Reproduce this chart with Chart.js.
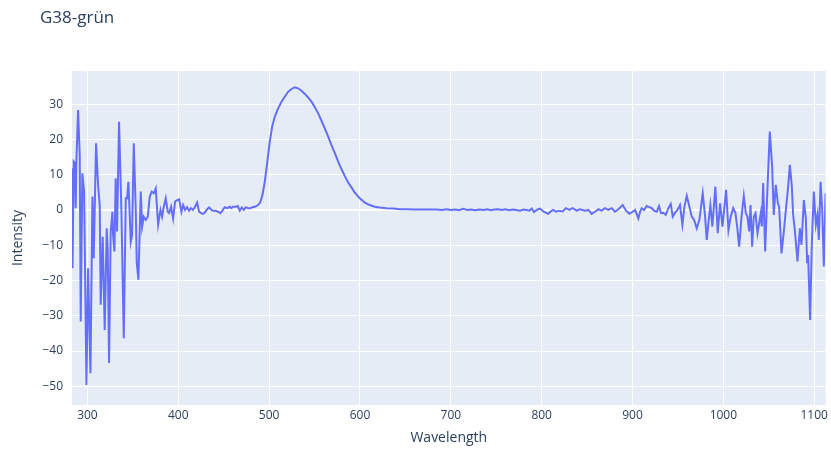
<!DOCTYPE html>
<html lang="de">
<head>
    <meta charset="UTF-8">
    <title>G38-grün</title>
    <script src="https://cdn.jsdelivr.net/npm/chart.js"></script>
    <style>
        body { margin: 0; background: #fff; }
        canvas { display: block; }
    </style>
</head>
<body>
    <canvas id="chart" width="831" height="451"></canvas>
    <script>
        // Wellenlänge (nm) und Intensität
        const wavelength = [
            283.0, 283.6, 284.9, 286.2, 287.1, 287.8, 289.7, 291.5, 292.6, 294.4,
            296.3, 298.9, 300.7, 303.3, 305.5, 306.9, 309.5, 311.7, 313.5, 314.6,
            316.8, 319.0, 321.2, 322.3, 323.8, 325.6, 327.5, 328.2, 329.7, 331.1,
            332.6, 334.8, 337.4, 340.0, 342.2, 343.6, 345.1, 347.7, 349.1, 351.0,
            353.2, 354.3, 356.1, 358.7, 360.2, 362.0, 364.2, 366.4, 368.6, 370.8,
            373.0, 375.2, 377.8, 380.4, 382.2, 384.0, 386.2, 388.4, 389.9, 392.1,
            394.3, 396.5, 398.7, 400.9, 403.5, 405.3, 407.5, 409.7, 411.9, 414.1,
            416.3, 418.5, 420.7, 422.9, 425.1, 427.3, 429.1, 431.0, 433.9, 436.5,
            438.3, 441.2, 443.8, 446.4, 448.6, 451.1, 453.7, 456.7, 458.5, 460.3,
            463.3, 465.5, 467.7, 469.9, 472.1, 474.3, 476.8, 479.4, 481.6, 484.2,
            486.7, 489.0, 490.5, 492.6, 495.2, 497.8, 500.7, 503.3, 506.2, 509.9,
            513.6, 517.2, 520.9, 524.6, 528.3, 531.9, 535.6, 539.3, 542.9, 546.6,
            550.3, 554.0, 557.6, 561.3, 565.0, 568.6, 572.3, 576.0, 579.6, 583.3,
            587.0, 590.6, 594.3, 599.8, 605.3, 610.8, 616.3, 621.8, 629.2, 636.5,
            643.9, 651.2, 660.0, 668.0, 676.0, 684.0, 690.0, 695.4, 700.0, 705.0,
            709.0, 713.7, 718.0, 722.0, 727.0, 731.0, 736.0, 740.0, 744.0, 748.0,
            752.0, 756.0, 760.0, 764.0, 768.0, 772.0, 776.0, 780.0, 783.5, 786.4,
            789.0, 791.5, 794.4, 798.1, 801.8, 804.7, 807.3, 809.9, 812.8, 815.7,
            819.4, 823.0, 826.7, 830.4, 834.1, 838.5, 842.2, 847.7, 851.4, 855.0,
            858.7, 862.4, 866.1, 869.7, 873.4, 877.1, 880.7, 884.4, 889.2, 892.9,
            896.5, 900.2, 902.8, 906.4, 908.3, 910.1, 912.7, 915.6, 918.6, 921.1,
            923.7, 926.7, 929.2, 931.4, 934.0, 936.6, 939.5, 942.1, 944.3, 946.8,
            949.4, 952.3, 954.9, 957.1, 959.7, 962.6, 965.2, 967.8, 970.7, 973.6,
            977.3, 979.9, 981.7, 983.9, 985.7, 987.9, 991.2, 993.8, 996.4, 999.0,
            1003.0, 1005.6, 1008.1, 1010.8, 1013.3, 1015.2, 1017.4, 1020.0, 1022.5, 1024.7,
            1026.5, 1028.4, 1029.9, 1031.7, 1033.5, 1035.4, 1037.6, 1039.4, 1041.2, 1042.3,
            1043.8, 1046.0, 1048.2, 1051.1, 1053.7, 1055.5, 1057.7, 1060.0, 1061.4, 1064.0,
            1066.6, 1068.8, 1071.0, 1073.2, 1075.4, 1076.8, 1078.7, 1081.6, 1084.2, 1086.0,
            1088.6, 1090.8, 1092.2, 1093.3, 1095.5, 1097.4, 1099.6, 1101.8, 1103.6, 1105.1,
            1107.0, 1108.8, 1110.6, 1112.5
        ];
        const intensity = [
            11.8, -16.5, 13.7, 13.2, 0.5, 13.7, 28.3, 15.6, -31.6, 10.4,
            5.2, -49.6, -16.5, -46.3, 3.8, -13.7, 18.9, 7.1, 1.4, -26.9,
            -7.6, -34.0, -5.2, -10.9, -43.4, -6.1, -0.5, -7.1, -11.8, 9.0,
            -6.1, 25.0, -0.5, -36.4, 3.3, 3.3, 8.0, -9.0, -7.1, 18.9,
            0, -15.1, -19.8, 5.2, -4.7, -1.9, -2.8, -1.9, 3.8, 5.2,
            4.7, 6.1, -4.2, 0, -1.9, 0.9, 3.3, -0.5, -0.9, 0.9,
            -2.4, 2.4, 2.8, 3.0, -0.5, 1.4, 0, 0.8, -0.2, 0.5,
            0, 0.9, 2.1, -0.5, -0.9, -1.1, -0.8, 0, 0.7, 0,
            -0.2, -0.2, -0.5, -0.9, -0.2, 0.8, 0.5, 0.9, 0.5, 0.9,
            0.9, 1.1, -0.2, 0.7, 0, 0.8, 0.5, 0.5, 0.8, 0.9,
            1.2, 1.7, 2.4, 4.2, 8.0, 13.2, 19.4, 23.6, 26.4, 28.8,
            30.7, 32.1, 33.5, 34.3, 34.8, 34.5, 33.8, 32.9, 31.9, 30.7,
            29.1, 27.4, 25.3, 23.1, 20.8, 18.4, 16.1, 13.7, 11.6, 9.6,
            7.8, 6.4, 4.9, 3.3, 2.1, 1.4, 0.9, 0.7, 0.5, 0.4,
            0.2, 0.2, 0.1, 0.1, 0.1, 0.1, 0, 0.2, 0, 0.1,
            -0.1, 0.3, 0, 0.1, -0.1, 0.1, 0, 0.2, -0.1, 0.1,
            0.2, 0, 0.2, -0.1, 0.1, 0, -0.2, 0.1, 0, -0.2,
            0.4, -0.6, 0, 0.4, -0.4, -0.8, -1.1, -0.4, 0, -0.5,
            -0.2, -0.4, 0.5, 0, 0.5, -0.2, 0.2, -0.2, 0, -1.1,
            -0.5, 0.2, -0.2, 0.5, 0, 0.5, -0.5, 0.2, 1.4, -0.2,
            -1.1, -0.5, 0, -2.4, -0.5, 0.5, 0, 1.1, 0.8, 0.5,
            -0.2, -0.5, 1.1, -0.9, -0.8, -1.4, 0.5, 1.7, -1.9, -0.8,
            0, 1.4, -4.2, 0.9, 4.0, 0.9, -1.9, -2.8, -5.2, -2.8,
            4.7, -1.9, -8.5, -2.8, 1.4, -4.7, 6.6, -6.6, 1.9, -4.7,
            5.7, -5.7, -1.9, 0.5, -0.9, -4.7, -10.4, -1.9, 4.0, -0.9,
            -1.9, -6.1, 1.4, -10.4, -1.9, -0.9, -6.6, -3.8, -0.9, -4.7,
            7.6, -11.8, 3.8, 22.2, 12.3, -1.4, 7.1, 1.9, 0.9, -12.3,
            -6.1, 0, 5.7, 12.8, 6.6, -1.4, -5.7, -14.6, -5.2, -9.9,
            2.8, -2.4, -15.1, -12.8, -31.2, -9.4, 5.2, -4.2, -1.4, -8.5,
            8.0, 0, -16.0, 4.7
        ];

        // Achsenbeschriftungen
        const xTicks = [300, 400, 500, 600, 700, 800, 900, 1000, 1100];
        const yTicks = [-50, -40, -30, -20, -10, 0, 10, 20, 30];

        const textColor = "#2a3f5f";

        // Hintergrund der Zeichenfläche + Titel
        const plotBackground = {
            id: "plotBackground",
            beforeDraw(chart) {
                const { ctx, chartArea } = chart;
                ctx.save();
                ctx.fillStyle = "#E5ECF6";
                ctx.fillRect(chartArea.left, chartArea.top, chartArea.right - chartArea.left, chartArea.bottom - chartArea.top);
                ctx.fillStyle = textColor;
                ctx.font = "17px 'Open Sans'";
                ctx.textBaseline = "alphabetic";
                ctx.fillText("G38-grün", 40, 23);
                ctx.restore();
            }
        };

        const points = wavelength.map((w, i) => ({ x: w, y: intensity[i] }));

        const ctx = document.getElementById("chart").getContext("2d");
        const chart = new Chart(ctx, {
            type: "line",
            data: {
                datasets: [{
                    data: points,
                    borderColor: "#636efa",
                    borderWidth: 2,
                    pointRadius: 0,
                    tension: 0,
                    fill: false
                }]
            },
            options: {
                responsive: false,
                animation: false,
                layout: { padding: { top: 71, right: 5, left: 0, bottom: 0 } },
                plugins: {
                    legend: { display: false },
                    tooltip: { enabled: false }
                },
                scales: {
                    x: {
                        type: "linear",
                        min: wavelength[0],
                        max: wavelength[wavelength.length - 1],
                        afterBuildTicks: s => { s.ticks = xTicks.map(v => ({ value: v })); },
                        afterFit: s => { s.height = 46; },
                        grid: { color: "#ffffff", lineWidth: 1, drawTicks: false },
                        border: { display: false },
                        ticks: {
                            color: textColor,
                            font: { family: "'Open Sans'", size: 12 },
                            padding: 3,
                            maxRotation: 0,
                            autoSkip: false,
                            callback: v => String(v)
                        },
                        title: {
                            display: true,
                            text: "Wavelength",
                            color: textColor,
                            font: { family: "'Open Sans'", size: 14 },
                            padding: { top: 0, bottom: 5 }
                        }
                    },
                    y: {
                        min: -55.3,
                        max: 39.4,
                        afterBuildTicks: s => { s.ticks = yTicks.map(v => ({ value: v })); },
                        afterFit: s => { s.width = 72; },
                        grid: {
                            color: "#ffffff",
                            lineWidth: c => (c.tick && c.tick.value === 0 ? 2 : 1),
                            drawTicks: false
                        },
                        border: { display: false },
                        ticks: {
                            color: textColor,
                            font: { family: "'Open Sans'", size: 12 },
                            padding: 9,
                            callback: v => String(v).replace("-", "\u2212")
                        },
                        title: {
                            display: true,
                            text: "Intensity",
                            color: textColor,
                            font: { family: "'Open Sans'", size: 14 },
                            padding: { top: 10, bottom: 0 }
                        }
                    }
                }
            },
            plugins: [plotBackground]
        });
    </script>
</body>
</html>
